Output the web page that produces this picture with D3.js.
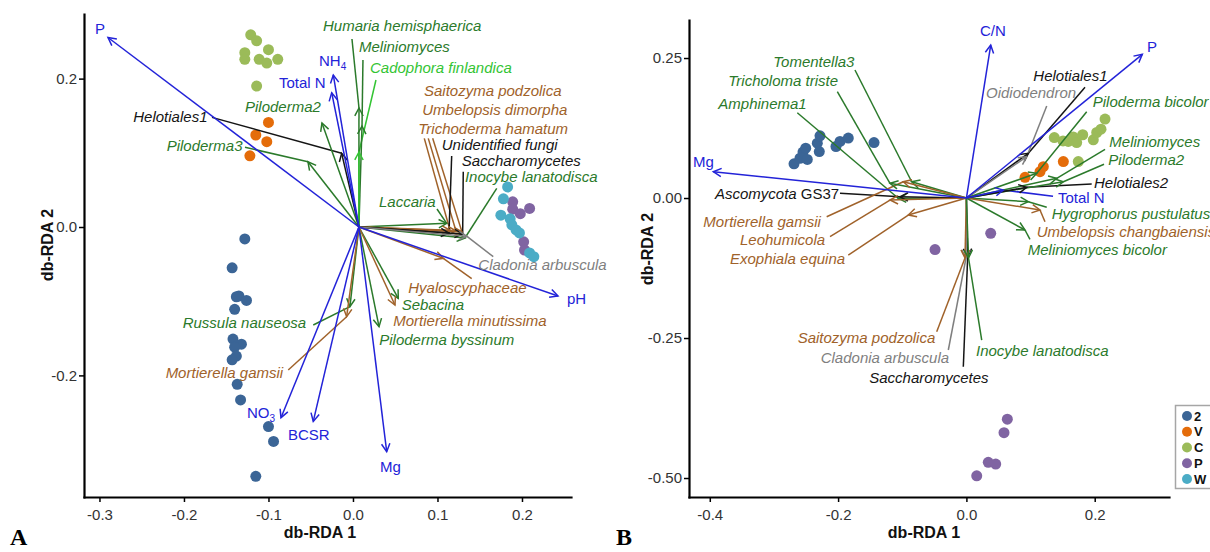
<!DOCTYPE html>
<html>
<head>
<meta charset="utf-8">
<script src="https://cdn.jsdelivr.net/npm/d3@7/dist/d3.min.js"></script>
<style>
body{margin:0;background:#fff;}
svg{display:block;font-family:"Liberation Sans",Arial,sans-serif;}
</style>
</head>
<body>
<svg id="chart" width="1210" height="552"></svg>
<script>
// ================= DATA =================
const groupNames = ["2", "V", "C", "P", "W"];

// ---- Panel A: site scores (db-RDA 1, db-RDA 2) ----
const siteA_2 = [[-0.128,-0.016],[-0.143,-0.055],[-0.135,-0.093],[-0.126,-0.099],[-0.138,-0.094],[-0.140,-0.111],[-0.142,-0.151],[-0.132,-0.158],[-0.140,-0.162],[-0.138,-0.174],[-0.143,-0.179],[-0.137,-0.212],[-0.133,-0.233],[-0.100,-0.269],[-0.094,-0.289],[-0.115,-0.336]];
const siteA_V = [[-0.100,0.141],[-0.115,0.124],[-0.102,0.115],[-0.122,0.096]];
const siteA_C = [[-0.121,0.259],[-0.114,0.251],[-0.128,0.235],[-0.128,0.226],[-0.100,0.239],[-0.111,0.226],[-0.102,0.221],[-0.089,0.226],[-0.114,0.190]];
const siteA_P = [[0.189,0.034],[0.189,0.024],[0.198,0.018],[0.209,0.025],[0.202,-0.020],[0.203,-0.031]];
const siteA_W = [[0.183,0.054],[0.178,0.038],[0.175,0.016],[0.186,0.011],[0.188,0.003],[0.193,-0.004],[0.197,-0.008],[0.209,-0.035],[0.214,-0.040]];

// ---- Panel A: environmental vectors (tip, label position) ----
const envA = [
  {name:"P",       x:-0.2899, y:0.2554,  lx:-0.3053, ly:0.2668},
  {name:"NH_4",    x:-0.0233, y:0.2049,  lx:-0.0402, ly:0.2237},
  {name:"Total N", x:-0.0252, y:0.1810,  lx:-0.0876, ly:0.1941},
  {name:"pH",      x:0.2426,  y:-0.0930, lx:0.2533,  ly:-0.0970},
  {name:"Mg",      x:0.0399,  y:-0.3028, lx:0.0320,  ly:-0.3235},
  {name:"BCSR",    x:-0.0470, y:-0.2620, lx:-0.0769, ly:-0.2803},
  {name:"NO_3",    x:-0.0852, y:-0.2570, lx:-0.1254, ly:-0.2507}
];

// ---- Panel A: taxa vectors (tip, label position, label-line end) ----
const taxaA = [
  {name:"Humaria hemisphaerica",   type:"ecm", x:0.0071,  y:0.1604,  lx:-0.0355, ly:0.2709,  ex:-0.0012, ey:0.2534},
  {name:"Meliniomyces",            type:"ecm", x:0.0107,  y:0.1361,  lx:0.0071,  ly:0.2430,  ex:0.0118,  ey:0.2251},
  {name:"Cadophora finlandica",    type:"lgr", x:0.0071,  y:0.1011,  lx:0.0201,  ly:0.2147,  ex:0.0272,  ey:0.1981},
  {name:"Piloderma2",              type:"ecm", x:-0.0367, y:0.1402,  lx:-0.1278, ly:0.1617,  ex:null,    ey:null},
  {name:"Piloderma3",              type:"ecm", x:-0.0533, y:0.0880,  lx:-0.2205, ly:0.1096,  ex:-0.1278, ey:0.1074},
  {name:"Helotiales1",             type:"blk", x:-0.0134, y:0.0993,  lx:-0.2600, ly:0.1487,  ex:-0.1669, ey:0.1478},
  {name:"Laccaria",                type:"ecm", x:0.1109,  y:0.0050,  lx:0.0308,  ly:0.0341,  ex:0.0994,  ey:0.0243},
  {name:"Inocybe lanatodisca",     type:"ecm", x:0.1325,  y:-0.0148, lx:0.1325,  ly:0.0678,  ex:0.1701,  ey:0.0522},
  {name:"Russula nauseosa",        type:"ecm", x:-0.0036, y:-0.1074, lx:-0.2015, ly:-0.1284, ex:-0.0470, ey:-0.1321},
  {name:"Sebacina",                type:"ecm", x:0.0536,  y:-0.0961, lx:0.0576,  ly:-0.1051, ex:null,    ey:null},
  {name:"Piloderma byssinum",      type:"ecm", x:0.0308,  y:-0.1344, lx:0.0311,  ly:-0.1523, ex:null,    ey:null},
  {name:"Saitozyma podzolica",     type:"sap", x:0.1290,  y:-0.0067, lx:0.0840,  ly:0.1837,  ex:0.0943,  ey:0.1195},
  {name:"Umbelopsis dimorpha",     type:"sap", x:0.1219,  y:-0.0054, lx:0.0820,  ly:0.1577,  ex:0.0891,  ey:0.1195},
  {name:"Trichoderma hamatum",     type:"sap", x:0.1148,  y:-0.0044, lx:0.0773,  ly:0.1330,  ex:0.0844,  ey:0.1195},
  {name:"Unidentified fungi",      type:"blk", x:0.1136,  y:-0.0081, lx:0.1050,  ly:0.1105,  ex:0.1168,  ey:0.0957},
  {name:"Saccharomycetes",         type:"blk", x:0.1298,  y:-0.0094, lx:0.1286,  ly:0.0894,  ex:0.1305,  ey:0.0745},
  {name:"Cladonia arbuscula",      type:"gry", x:0.1349,  y:-0.0125, lx:0.1483,  ly:-0.0512, ex:0.1660,  ey:-0.0400},
  {name:"Hyaloscyphaceae",         type:"sap", x:0.1069,  y:-0.0422, lx:0.0654,  ly:-0.0813, ex:0.1405,  ey:-0.0695},
  {name:"Mortierella minutissima", type:"sap", x:0.0497,  y:-0.1051, lx:0.0477,  ly:-0.1263, ex:null,    ey:null},
  {name:"Mortierella gamsii",      type:"sap", x:-0.0075, y:-0.1209, lx:-0.2217, ly:-0.1958, ex:-0.0766, ey:-0.1927}
];

// ---- Panel B: site scores ----
const siteB_2 = [[-0.2687,0.061],[-0.2594,0.071],[-0.2547,0.082],[-0.2505,0.089],[-0.2480,0.069],[-0.2324,0.098],[-0.2282,0.111],[-0.2293,0.083],[-0.2033,0.092],[-0.1970,0.101],[-0.1841,0.107],[-0.1440,0.099]];
const siteB_V = [[0.0914,0.037],[0.1147,0.047],[0.1199,0.056],[0.1511,0.065]];
const siteB_C = [[0.1370,0.108],[0.1588,0.101],[0.1666,0.109],[0.1719,0.099],[0.1813,0.113],[0.1978,0.104],[0.2031,0.117],[0.2098,0.123],[0.2161,0.141],[0.1744,0.065],[0.1506,0.102]];
const siteB_P = [[0.0379,-0.063],[-0.0489,-0.092],[0.0638,-0.395],[0.0586,-0.419],[0.0341,-0.472],[0.0457,-0.475],[0.0161,-0.496]];
const siteB_W = [];

// ---- Panel B: environmental vectors ----
const envB = [
  {name:"C/N",     x:0.0379,  y:0.2732, lx:0.0212,  ly:0.2988, ex:null,   ey:null},
  {name:"P",       x:0.2742,  y:0.2566, lx:0.2815,  ly:0.2702, ex:null,   ey:null},
  {name:"Mg",      x:-0.3945, y:0.0470, lx:-0.4262, ly:0.0648, ex:null,   ey:null},
  {name:"Total N", x:0.0575,  y:0.0143, lx:0.1428,  ly:0.0000, ex:0.1350, ey:0.0030}
];

// ---- Panel B: taxa vectors ----
const taxaB = [
  {name:"Helotiales1",              type:"blk", x:0.0965,  y:0.0798,  lx:0.1043,  ly:0.2179,  ex:0.1849,  ey:0.1977},
  {name:"Oidiodendron",             type:"gry", x:0.0940,  y:0.0738,  lx:0.0306,  ly:0.1880,  ex:0.1252,  ey:0.1643},
  {name:"Piloderma bicolor",        type:"ecm", x:0.1096,  y:0.0441,  lx:0.1969,  ly:0.1720,  ex:0.1875,  ey:0.1541},
  {name:"Meliniomyces",             type:"ecm", x:0.1408,  y:0.0352,  lx:0.2228,  ly:0.1005,  ex:0.2161,  ey:0.0870},
  {name:"Piloderma2",               type:"ecm", x:0.1511,  y:0.0291,  lx:0.2212,  ly:0.0691,  ex:0.2145,  ey:0.0602},
  {name:"Helotiales2",              type:"blk", x:0.0940,  y:0.0191,  lx:0.1989,  ly:0.0280,  ex:0.1953,  ey:0.0250},
  {name:"Hygrophorus pustulatus",   type:"ecm", x:0.0965,  y:-0.0066, lx:0.1330,  ly:-0.0285, ex:0.1252,  ey:-0.0165},
  {name:"Umbelopsis changbaiensis", type:"sap", x:0.1147,  y:-0.0214, lx:0.1096,  ly:-0.0602, ex:0.1225,  ey:-0.0423},
  {name:"Meliniomyces bicolor",     type:"ecm", x:0.0913,  y:-0.0571, lx:0.0956,  ly:-0.0916, ex:0.0991,  ey:-0.0738},
  {name:"Tomentella3",              type:"ecm", x:-0.0853, y:0.0291,  lx:-0.3010, ly:0.2434,  ex:-0.1737, ey:0.2286},
  {name:"Tricholoma triste",        type:"ecm", x:-0.1191, y:0.0263,  lx:-0.3712, ly:0.2089,  ex:-0.2012, ey:0.1898},
  {name:"Amphinema1",               type:"ecm", x:-0.1062, y:-0.0005, lx:-0.3867, ly:0.1691,  ex:-0.2636, ey:0.1523},
  {name:"Ascomycota| GS37",         type:"blk", x:-0.1035, y:0.0023,  lx:-0.3919, ly:0.0084,  ex:-0.1970, ey:0.0084},
  {name:"Mortierella gamsii",       type:"sap", x:-0.0984, y:0.0291,  lx:-0.4101, ly:-0.0423, ex:-0.2178, ey:-0.0334},
  {name:"Leohumicola",              type:"sap", x:-0.1191, y:-0.0036, lx:-0.3529, ly:-0.0750, ex:-0.2126, ey:-0.0691},
  {name:"Exophiala equina",         type:"sap", x:-0.0906, y:-0.0304, lx:-0.3685, ly:-0.1089, ex:-0.1841, ey:-0.1018},
  {name:"Saccharomycetes",          type:"blk", x:0.0020,  y:-0.1048, lx:-0.1514, ly:-0.3202, ex:-0.0048, ey:-0.3013},
  {name:"Cladonia arbuscula",       type:"gry", x:-0.0006, y:-0.1071, lx:-0.2271, ly:-0.2845, ex:-0.0282, ey:-0.2714},
  {name:"Saitozyma podzolica",      type:"sap", x:-0.0022, y:-0.1071, lx:-0.2630, ly:-0.2495, ex:-0.0463, ey:-0.2388},
  {name:"Inocybe lanatodisca",      type:"ecm", x:0.0033,  y:-0.1071, lx:0.0150,  ly:-0.2732, ex:0.0239,  ey:-0.2536}
];

const xTicksA = [-0.3, -0.2, -0.1, 0.0, 0.1, 0.2];
const yTicksA = [-0.2, 0.0, 0.2];
const xTicksB = [-0.4, -0.2, 0.0, 0.2];
const yTicksB = [-0.50, -0.25, 0.00, 0.25];
const originA = [0.007, 0.0];
const originB = [0.0, 0.0];

// ================= STYLE =================
const ptColor = {"2":"#3b6596","V":"#e46c0a","C":"#9bbb59","P":"#8064a2","W":"#4bacc6"};
const vecColor = {env:"#2323d8", ecm:"#2b7a2b", lgr:"#33c433", sap:"#a0622a", blk:"#151515", gry:"#7f7f7f"};
const FONT = '"Liberation Sans", Arial, sans-serif';

const svg = d3.select("#chart");

function addLabel(g, name, px, py, color, italic) {
  const t = g.append("text").attr("x", px).attr("y", py).attr("dy", "0.35em")
    .attr("fill", color).attr("font-size", 15).attr("font-family", FONT);
  if (name.includes("_")) {
    const [a, b] = name.split("_");
    t.append("tspan").text(a);
    t.append("tspan").attr("font-size", 10).attr("dy", "0.35em").text(b);
  } else if (name.includes("|")) {
    const [a, b] = name.split("|");
    t.append("tspan").attr("font-style", "italic").text(a);
    t.append("tspan").text(b);
  } else {
    t.attr("font-style", italic ? "italic" : "normal").text(name);
  }
}

function drawArrow(g, x0, y0, x1, y1, color) {
  g.append("line").attr("x1", x0).attr("y1", y0).attr("x2", x1).attr("y2", y1)
    .attr("stroke", color).attr("stroke-width", 1.5);
  const a = Math.atan2(y1 - y0, x1 - x0), L = 9, h = Math.PI / 6.5;
  g.append("path")
    .attr("d", `M${x1 - L*Math.cos(a-h)},${y1 - L*Math.sin(a-h)}L${x1},${y1}L${x1 - L*Math.cos(a+h)},${y1 - L*Math.sin(a+h)}`)
    .attr("fill", "none").attr("stroke", color).attr("stroke-width", 1.5).attr("stroke-linejoin", "miter");
}

function panel(o) {
  const g = svg.append("g");
  const x = d3.scaleLinear().domain(o.xDomain).range(o.xRange);
  const y = d3.scaleLinear().domain(o.yDomain).range(o.yRange);

  // sites
  o.sites.forEach((arr, i) => {
    g.append("g").selectAll("circle").data(arr).enter().append("circle")
      .attr("cx", d => x(d[0])).attr("cy", d => y(d[1])).attr("r", 5.5)
      .attr("fill", ptColor[groupNames[i]]);
  });

  const ox = x(o.origin[0]), oy = y(o.origin[1]);
  const vecs = o.taxa.map(d => Object.assign({}, d)).concat(o.env.map(d => Object.assign({type:"env"}, d)));

  // leader lines
  vecs.forEach(d => {
    if (d.ex != null) {
      g.append("line").attr("x1", x(d.x)).attr("y1", y(d.y)).attr("x2", x(d.ex)).attr("y2", y(d.ey))
        .attr("stroke", vecColor[d.type]).attr("stroke-width", 1.5);
    }
  });
  // arrows
  vecs.forEach(d => drawArrow(g, ox, oy, x(d.x), y(d.y), vecColor[d.type]));
  // labels
  vecs.forEach(d => addLabel(g, d.name, x(d.lx), y(d.ly), vecColor[d.type], d.type !== "env"));

  // axes
  const gx = g.append("g").attr("transform", `translate(0,${o.yRange[0]})`)
    .call(d3.axisBottom(x).tickValues(o.xTicks).tickFormat(o.xFmt).tickSize(5).tickSizeOuter(0).tickPadding(7));
  const gy = g.append("g").attr("transform", `translate(${o.xRange[0]},0)`)
    .call(d3.axisLeft(y).tickValues(o.yTicks).tickFormat(o.yFmt).tickSize(5).tickSizeOuter(0).tickPadding(2));
  [gx, gy].forEach(ax => {
    ax.attr("font-family", FONT).attr("font-size", 15);
    ax.select(".domain").attr("stroke", "#000").attr("stroke-width", 2.2).attr("stroke-linecap", "square");
    ax.selectAll(".tick line").attr("stroke", "#000").attr("stroke-width", 1.5);
    ax.selectAll(".tick text").attr("fill", "#333");
  });

  // titles
  g.append("text").attr("x", o.xTitle[0]).attr("y", o.xTitle[1]).attr("text-anchor", "middle")
    .attr("font-family", FONT).attr("font-weight", "bold").attr("font-size", 16).attr("fill", "#111").text("db-RDA 1");
  g.append("text").attr("transform", `translate(${o.yTitle[0]},${o.yTitle[1]}) rotate(-90)`)
    .attr("text-anchor", "middle").attr("dy", "0.35em")
    .attr("font-family", FONT).attr("font-weight", "bold").attr("font-size", 16).attr("fill", "#111").text("db-RDA 2");
  g.append("text").attr("x", o.letter[0]).attr("y", o.letter[1])
    .attr("font-family", '"Liberation Serif", "Times New Roman", serif').attr("font-weight", "bold")
    .attr("font-size", 24).attr("fill", "#000").text(o.letterText);
}

panel({
  xDomain: [-0.3183, 0.2580], xRange: [84, 571],
  yDomain: [-0.3639, 0.2871], yRange: [497, 14],
  sites: [siteA_2, siteA_V, siteA_C, siteA_P, siteA_W],
  env: envA, taxa: taxaA, origin: originA,
  xTicks: xTicksA, yTicks: yTicksA,
  xFmt: d => d.toFixed(1), yFmt: d => d.toFixed(1),
  xTitle: [320, 538], yTitle: [47, 245], letter: [10, 545], letterText: "A"
});

panel({
  xDomain: [-0.4324, 0.3158], xRange: [689, 1169],
  yDomain: [-0.5339, 0.3179], yRange: [497, 20],
  sites: [siteB_2, siteB_V, siteB_C, siteB_P, siteB_W],
  env: envB, taxa: taxaB, origin: originB,
  xTicks: xTicksB, yTicks: yTicksB,
  xFmt: d => d.toFixed(1), yFmt: d => d.toFixed(2),
  xTitle: [924, 538], yTitle: [647, 249], letter: [616, 545], letterText: "B"
});

// legend
const lg = svg.append("g");
lg.append("rect").attr("x", 1175.5).attr("y", 405.5).attr("width", 45).attr("height", 83)
  .attr("fill", "#fff").attr("stroke", "#a6a6a6").attr("stroke-width", 1.5);
const ly = d3.scalePoint().domain(groupNames).range([416, 479]);
groupNames.forEach(gn => {
  lg.append("circle").attr("cx", 1187).attr("cy", ly(gn)).attr("r", 5).attr("fill", ptColor[gn]);
  lg.append("text").attr("x", 1194).attr("y", ly(gn)).attr("dy", "0.36em")
    .attr("font-family", FONT).attr("font-weight", "bold").attr("font-size", 13).attr("fill", "#111").text(gn);
});
</script>
</body>
</html>
